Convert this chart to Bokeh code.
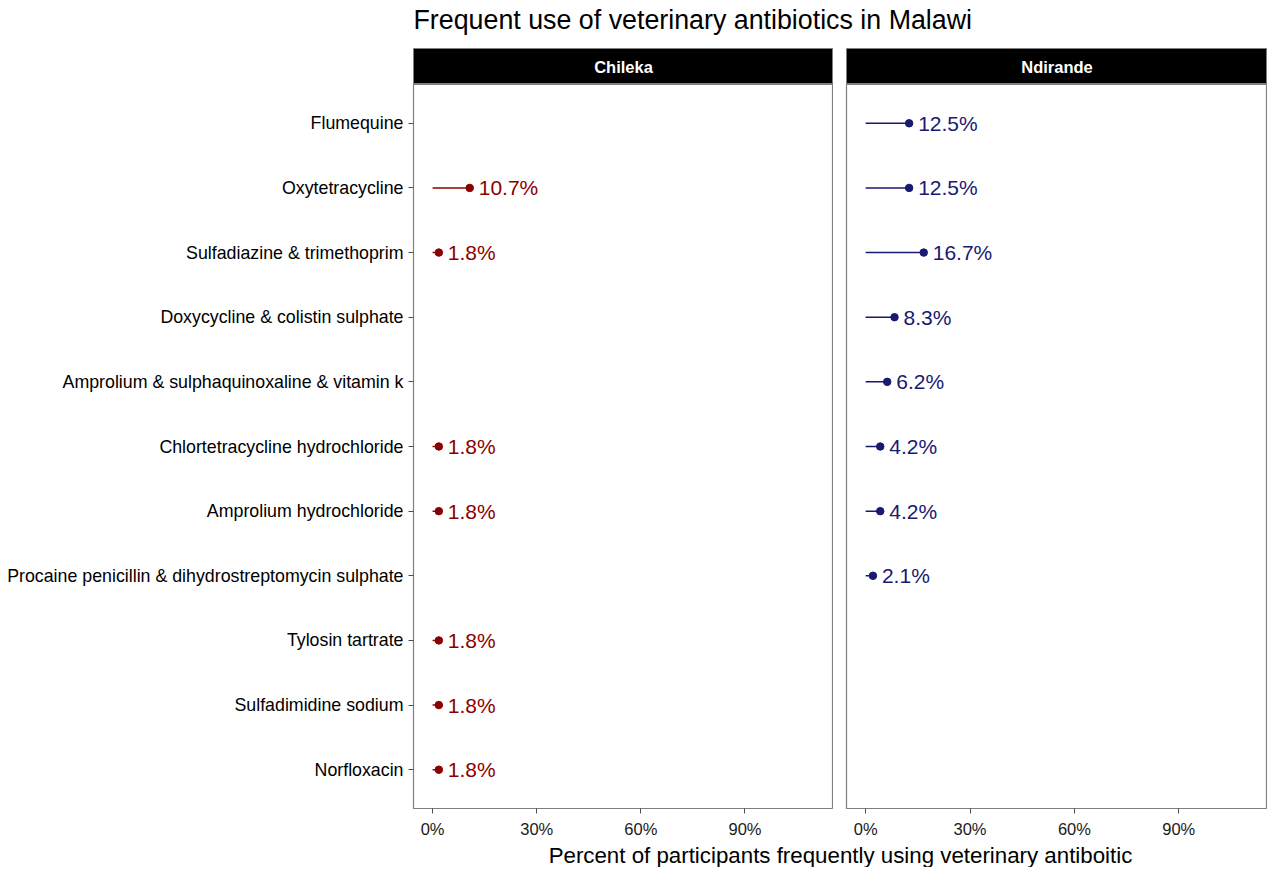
from bokeh.plotting import figure
from bokeh.layouts import column, row
from bokeh.models import FactorRange, Range1d, FixedTicker, ColumnDataSource
from bokeh.core.properties import value
from bokeh.embed import file_html
from bokeh.resources import INLINE

title_text = "Frequent use of veterinary antibiotics in Malawi"
x_title = "Percent of participants frequently using veterinary antiboitic"
panels = ["Chileka", "Ndirande"]
antibiotics = [
    "Flumequine",
    "Oxytetracycline",
    "Sulfadiazine & trimethoprim",
    "Doxycycline & colistin sulphate",
    "Amprolium & sulphaquinoxaline & vitamin k",
    "Chlortetracycline hydrochloride",
    "Amprolium hydrochloride",
    "Procaine penicillin & dihydrostreptomycin sulphate",
    "Tylosin tartrate",
    "Sulfadimidine sodium",
    "Norfloxacin",
]
chileka = [None, 10.7, 1.8, None, None, 1.8, 1.8, None, 1.8, 1.8, 1.8]
ndirande = [12.5, 12.5, 16.7, 8.3, 6.2, 4.2, 4.2, 2.1, None, None, None]
tick_values = [0, 30, 60, 90]
tick_labels = ["0%", "30%", "60%", "90%"]
colors = ["#8b0000", "#191970"]

FONT = "Liberation Sans"
x_start, x_end = -5.5, 115.5
FRAME_H = 724
LEFT = 413
GAP = 13


def make_strip(label, left, fw):
    s = figure(frame_width=fw, frame_height=36, x_range=Range1d(0, 1), y_range=Range1d(0, 1),
               toolbar_location=None, output_backend="svg", x_axis_type=None, y_axis_type=None,
               min_border_left=left, min_border_right=0, min_border_top=0, min_border_bottom=0)
    s.background_fill_color = "black"
    s.border_fill_color = "white"
    s.outline_line_color = "#7f7f7f"
    s.grid.visible = False
    s.text(x=[0.5], y=[0.5], text=[label], text_color="white", text_align="center",
           text_baseline="middle", text_font=value(FONT), text_font_size="16.5px",
           text_font_style="bold")
    return s


def make_panel(vals, color, left, fw, show_y):
    yr = FactorRange(factors=list(reversed(antibiotics)), range_padding=0.1,
                     range_padding_units="absolute")
    p = figure(frame_width=fw, frame_height=FRAME_H, y_range=yr, x_range=Range1d(x_start, x_end),
               toolbar_location=None, output_backend="svg",
               min_border_left=left, min_border_right=0, min_border_top=0, min_border_bottom=35)
    p.grid.visible = False
    p.outline_line_color = "#7f7f7f"
    p.outline_line_width = 1.2
    p.background_fill_color = "white"

    xs = [v for v in vals if v is not None]
    ys = [a for a, v in zip(antibiotics, vals) if v is not None]
    src = ColumnDataSource(dict(x=xs, y=ys, x0=[0] * len(xs), lab=[f"{v}%" for v in xs]))
    p.segment(x0="x0", y0="y", x1="x", y1="y", source=src, line_color=color, line_width=1.5)
    p.scatter(x="x", y="y", source=src, size=7.5, fill_color=color, line_color=color)
    p.text(x="x", y="y", text="lab", source=src, x_offset=9, text_align="left",
           text_baseline="middle", text_color=color, text_font=value(FONT), text_font_size="21px")

    xa = p.xaxis[0]
    xa.ticker = FixedTicker(ticks=tick_values)
    xa.major_label_overrides = {t: l for t, l in zip(tick_values, tick_labels)}
    xa.major_label_text_font = FONT
    xa.major_label_text_font_size = "16.5px"
    xa.major_label_text_color = "#1a1a1a"
    xa.major_tick_out = 5
    xa.major_tick_in = 0
    xa.major_tick_line_color = "#4d4d4d"
    xa.minor_tick_line_color = None
    xa.axis_line_color = None
    xa.major_label_standoff = 6

    ya = p.yaxis[0]
    if show_y:
        ya.major_label_text_font = FONT
        ya.major_label_text_font_size = "17.8px"
        ya.major_label_text_color = "black"
        ya.major_tick_out = 5
        ya.major_tick_in = 0
        ya.major_tick_line_color = "#4d4d4d"
        ya.axis_line_color = None
        ya.major_label_standoff = 5
    else:
        ya.visible = False
    return p


def make_text_band(text, h, size, align, xpos, ypos, fw):
    f = figure(frame_width=fw, frame_height=h, x_range=Range1d(0, 1), y_range=Range1d(0, 1),
               toolbar_location=None, output_backend="svg", x_axis_type=None, y_axis_type=None,
               min_border_left=LEFT, min_border_right=0, min_border_top=0, min_border_bottom=0)
    f.outline_line_color = None
    f.grid.visible = False
    f.text(x=[xpos], y=[ypos], text=[text], text_align=align, text_baseline="middle",
           text_font=value(FONT), text_font_size=size, text_color="black")
    return f


header = make_text_band(title_text, 48, "26.8px", "left", 0.0, 0.6, 854)
s1 = make_strip(panels[0], LEFT, 420)
s2 = make_strip(panels[1], GAP, 421)
p1 = make_panel(chileka, colors[0], LEFT, 420, True)
p2 = make_panel(ndirande, colors[1], GAP, 421, False)
foot = make_text_band(x_title, 24, "22.3px", "center", 0.5, 0.5, 854)

layout = column(header, row(s1, s2), row(p1, p2), foot)
open("out.html", "w").write(file_html(layout, INLINE))
